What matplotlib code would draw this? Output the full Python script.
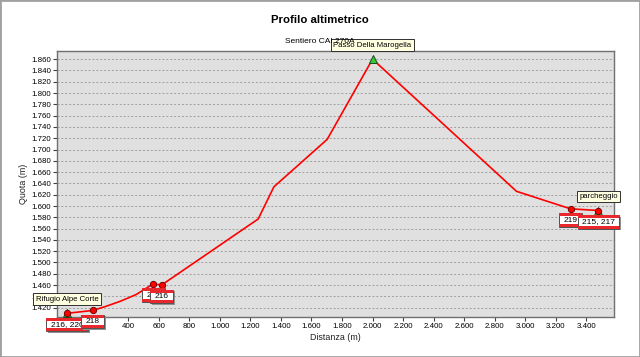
import matplotlib
matplotlib.use('Agg')
import matplotlib.pyplot as plt
import matplotlib.transforms as mtransforms
from matplotlib.patches import Rectangle
from matplotlib.ticker import MultipleLocator, FuncFormatter

plt.rcParams['font.family'] = ['Liberation Sans', 'DejaVu Sans']

# profile (distance in m, altitude in m)
dist = [0, 166, 250, 345, 450, 563, 618, 1251, 1354, 1703, 2000, 2943, 3297, 3480]
quota = [1410, 1415, 1422, 1431, 1443, 1462, 1460, 1577, 1634, 1718, 1860, 1626, 1595, 1592]

# waypoints with trail numbers
wp_idx = [0, 1, 5, 6, 12, 13]
wp_lab = ['216, 220', '218', '217', '216', '219', '215, 217']

# named places
poi_idx = [0, 10, 13]
poi_lab = ['Rifugio Alpe Corte', 'Passo Della Marogella', 'parcheggio']

fig = plt.figure(figsize=(6.4, 3.57), dpi=100)
fig.add_artist(Rectangle((0, 0), 1, 1, transform=fig.transFigure, fill=False,
                         ec='#a0a0a0', lw=2))
ax = fig.add_axes([0.0895, 0.1129, 0.8695, 0.7451])
ax.set_facecolor('#e0e0e0')

ax.plot(dist, quota, color='#ff0000', lw=1.2, zorder=3)
ax.plot([dist[i] for i in poi_idx], [quota[i] for i in poi_idx], '^', ms=6,
        color='#33cc33', mec='#1e4a1e', mew=0.7, zorder=4, clip_on=False)
ax.plot([dist[i] for i in wp_idx], [quota[i] for i in wp_idx], 'o', ms=4.5,
        color='#ff0000', mec='#700000', mew=0.7, zorder=5, clip_on=False)

ax.set_xlim(-65, 3580)
ax.set_ylim(1404, 1875)
ax.xaxis.set_major_locator(MultipleLocator(200))
ax.yaxis.set_major_locator(MultipleLocator(20))
fmt = FuncFormatter(lambda v, p: '{:,}'.format(int(round(v))).replace(',', '.'))
ax.xaxis.set_major_formatter(fmt)
ax.yaxis.set_major_formatter(fmt)
ax.tick_params(labelsize=5.7, length=3, width=0.8, color='#404040', pad=1.5)
ax.grid(axis='y', color='#a0a0a0', ls=(0, (2, 2)), lw=0.7)
ax.set_axisbelow(True)
for s in ax.spines.values():
    s.set_color('#707070')
    s.set_linewidth(1.0)

ax.set_xlabel('Distanza (m)', fontsize=6.4, labelpad=2, color='#202020')
ax.set_ylabel('Quota (m)', fontsize=6.4, labelpad=2.5, color='#202020')

fig.text(0.5, 0.944, 'Profilo altimetrico', ha='center', va='center',
         fontsize=8.2, fontweight='bold')
fig.text(0.5, 0.885, 'Sentiero CAI 270A', ha='center', va='center', fontsize=6)

# red/white trail labels below the waypoints
renderer = fig.canvas.get_renderer()
z = 10
for i, lab in zip(wp_idx, wp_lab):
    tr = mtransforms.ScaledTranslation(dist[i], quota[i], ax.transData)
    t = ax.text(0, -11.5, lab, transform=tr, ha='center', va='center',
                fontsize=6, zorder=z + 3, clip_on=False)
    w = t.get_window_extent(renderer).width + 9
    h = 13.5
    top = -4.5
    ax.add_patch(Rectangle((-w / 2 + 1.5, top - h - 1.5), w, h, transform=tr,
                           fc='#909090', ec='none', zorder=z, clip_on=False))
    ax.add_patch(Rectangle((-w / 2, top - h), w, h, transform=tr,
                           fc='white', ec='#505050', lw=0.7, zorder=z + 1, clip_on=False))
    ax.add_patch(Rectangle((-w / 2, top - 3), w, 3, transform=tr,
                           fc='#e8282c', ec='none', zorder=z + 2, clip_on=False))
    ax.add_patch(Rectangle((-w / 2, top - h), w, 3, transform=tr,
                           fc='#e8282c', ec='none', zorder=z + 2, clip_on=False))
    z += 4

# yellow callouts for named places
for i, lab in zip(poi_idx, poi_lab):
    ax.annotate(lab, xy=(dist[i], quota[i]), xytext=(0, 10.5),
                textcoords='offset pixels', ha='center', va='bottom',
                fontsize=5.6, zorder=50, annotation_clip=False,
                bbox=dict(boxstyle='square,pad=0.3', fc='#ffffe1', ec='#303030', lw=0.7))

fig.savefig('out.png', dpi=100)
